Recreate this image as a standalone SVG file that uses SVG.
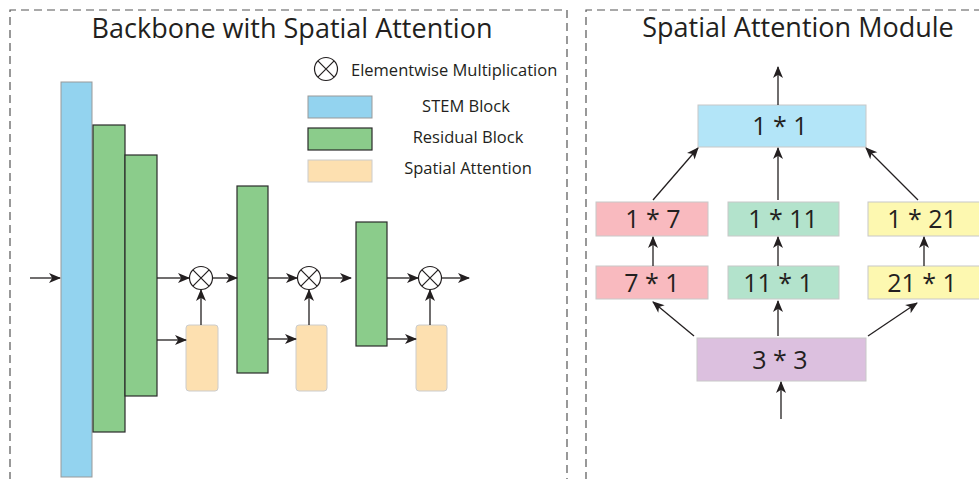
<svg xmlns="http://www.w3.org/2000/svg" width="979" height="479" viewBox="0 0 979 479">
<defs>
<marker id="ah" markerUnits="userSpaceOnUse" markerWidth="14" markerHeight="12" refX="11" refY="5" orient="auto" overflow="visible">
<path d="M0,0 L12,5 L0,10 L3.2,5 z" fill="#231f20"/>
</marker>
</defs>
<style>
.frame{fill:none;stroke:#555;stroke-width:1.2;stroke-dasharray:8 5}
.title{font-family:"Open Sans","Liberation Sans",sans-serif;font-size:27px;fill:#231f20;text-anchor:middle}
.leg{font-family:"Open Sans","Liberation Sans",sans-serif;font-size:16.5px;fill:#231f20}
.lbl{font-family:"Open Sans","Liberation Sans",sans-serif;font-size:25px;fill:#231f20;text-anchor:middle}
.stem{fill:#93d3ef;stroke:#999;stroke-width:1}
.res{fill:#8bcc8b;stroke:#2b2b2b;stroke-width:1.2}
.sa{fill:#fde0b0;stroke:#ccc;stroke-width:1}
.mul{fill:#fff;stroke:#231f20;stroke-width:1.2}
.c{fill:none;stroke:#231f20;stroke-width:1.3;marker-end:url(#ah)}
.box{stroke:#c8c8c8;stroke-width:1}
</style>
<g id="frames">
<path class="frame" d="M10,480 V10 H567 V480"/>
<path class="frame" d="M586,480 V10 H985"/>
</g>
<text class="title" x="292" y="38">Backbone with Spatial Attention</text>
<text class="title" x="798" y="37">Spatial Attention Module</text>

<g id="legend">
<g id="legend-mul"><circle class="mul" cx="326" cy="69" r="11.5"/><path d="M317.9,60.9 L334.1,77.1 M334.1,60.9 L317.9,77.1" stroke="#231f20" stroke-width="1.2"/>
<text class="leg" x="351" y="76">Elementwise Multiplication</text></g>
<g id="legend-stem"><rect class="stem" x="308" y="96" width="64" height="22"/><text class="leg" x="466" y="112" text-anchor="middle">STEM Block</text></g>
<g id="legend-res"><rect class="res" x="308" y="128" width="64" height="22"/><text class="leg" x="468" y="143" text-anchor="middle">Residual Block</text></g>
<g id="legend-sa"><rect class="sa" x="308" y="160" width="64" height="22"/><text class="leg" x="468" y="174" text-anchor="middle">Spatial Attention</text></g>
</g>

<g id="stem"><rect class="stem" x="61" y="82" width="31" height="395"/></g>
<g id="res1"><rect class="res" x="93" y="125" width="32" height="307"/></g>
<g id="res2"><rect class="res" x="125" y="155" width="32" height="241"/></g>
<g id="res3"><rect class="res" x="237" y="186" width="31" height="187"/></g>
<g id="res4"><rect class="res" x="356" y="222" width="31" height="124"/></g>
<g id="sa1"><rect class="sa" x="186" y="325" width="32" height="66" rx="3"/></g>
<g id="sa2"><rect class="sa" x="296" y="325" width="31" height="66" rx="3"/></g>
<g id="sa3"><rect class="sa" x="416" y="325" width="31" height="66" rx="3"/></g>
<g id="mul1"><circle class="mul" cx="201" cy="278" r="11.5"/><path d="M192.9,269.9 L209.1,286.1 M209.1,269.9 L192.9,286.1" stroke="#231f20" stroke-width="1.2"/></g>
<g id="mul2"><circle class="mul" cx="309" cy="278" r="11.5"/><path d="M300.9,269.9 L317.1,286.1 M317.1,269.9 L300.9,286.1" stroke="#231f20" stroke-width="1.2"/></g>
<g id="mul3"><circle class="mul" cx="430" cy="278" r="11.5"/><path d="M421.9,269.9 L438.1,286.1 M438.1,269.9 L421.9,286.1" stroke="#231f20" stroke-width="1.2"/></g>

<g id="k11"><rect class="box" x="698" y="105" width="168" height="42" fill="#b3e5f8"/><text class="lbl" x="780" y="135">1 * 1</text></g>
<g id="k17"><rect class="box" x="596" y="202" width="112" height="34" fill="#f9babf"/><text class="lbl" x="653" y="228">1 * 7</text></g>
<g id="k111"><rect class="box" x="728" y="202" width="111" height="34" fill="#b3e3cc"/><text class="lbl" x="783" y="228">1 * 11</text></g>
<g id="k121"><rect class="box" x="868" y="202" width="120" height="34" fill="#fdf8b0"/><text class="lbl" x="922" y="228">1 * 21</text></g>
<g id="k71"><rect class="box" x="596" y="266" width="112" height="33" fill="#f9babf"/><text class="lbl" x="652" y="292">7 * 1</text></g>
<g id="k111b"><rect class="box" x="728" y="266" width="111" height="33" fill="#b3e3cc"/><text class="lbl" x="778" y="292">11 * 1</text></g>
<g id="k211"><rect class="box" x="868" y="266" width="120" height="33" fill="#fdf8b0"/><text class="lbl" x="922" y="292">21 * 1</text></g>
<g id="k33"><rect class="box" x="697" y="338" width="169" height="43" fill="#dcc0df"/><text class="lbl" x="780" y="369">3 * 3</text></g>

<g id="connectors">
<line class="c" x1="30" y1="278" x2="60" y2="278"/>
<line class="c" x1="157" y1="278" x2="189" y2="278"/>
<line class="c" x1="157" y1="340" x2="186" y2="340"/>
<line class="c" x1="201" y1="325" x2="201" y2="290"/>
<line class="c" x1="212.5" y1="278" x2="237" y2="278"/>
<line class="c" x1="268" y1="278" x2="297" y2="278"/>
<line class="c" x1="268" y1="339" x2="296" y2="339"/>
<line class="c" x1="309" y1="325" x2="309" y2="290"/>
<line class="c" x1="320.5" y1="278" x2="351" y2="278"/>
<line class="c" x1="387" y1="278" x2="418" y2="278"/>
<line class="c" x1="387" y1="339" x2="416" y2="339"/>
<line class="c" x1="430" y1="325" x2="430" y2="290"/>
<line class="c" x1="441.5" y1="278" x2="469" y2="278"/>

<line class="c" x1="778" y1="105" x2="778" y2="67"/>
<line class="c" x1="653" y1="200" x2="698" y2="148"/>
<line class="c" x1="778" y1="200" x2="778" y2="148"/>
<line class="c" x1="918" y1="200" x2="866" y2="148"/>
<line class="c" x1="653" y1="266" x2="653" y2="237"/>
<line class="c" x1="778" y1="266" x2="778" y2="237"/>
<line class="c" x1="924" y1="266" x2="924" y2="237"/>
<line class="c" x1="694" y1="336" x2="653" y2="302"/>
<line class="c" x1="778" y1="336" x2="778" y2="301"/>
<line class="c" x1="868" y1="336" x2="917" y2="303"/>
<line class="c" x1="781" y1="419" x2="781" y2="382"/>
</g>
</svg>
